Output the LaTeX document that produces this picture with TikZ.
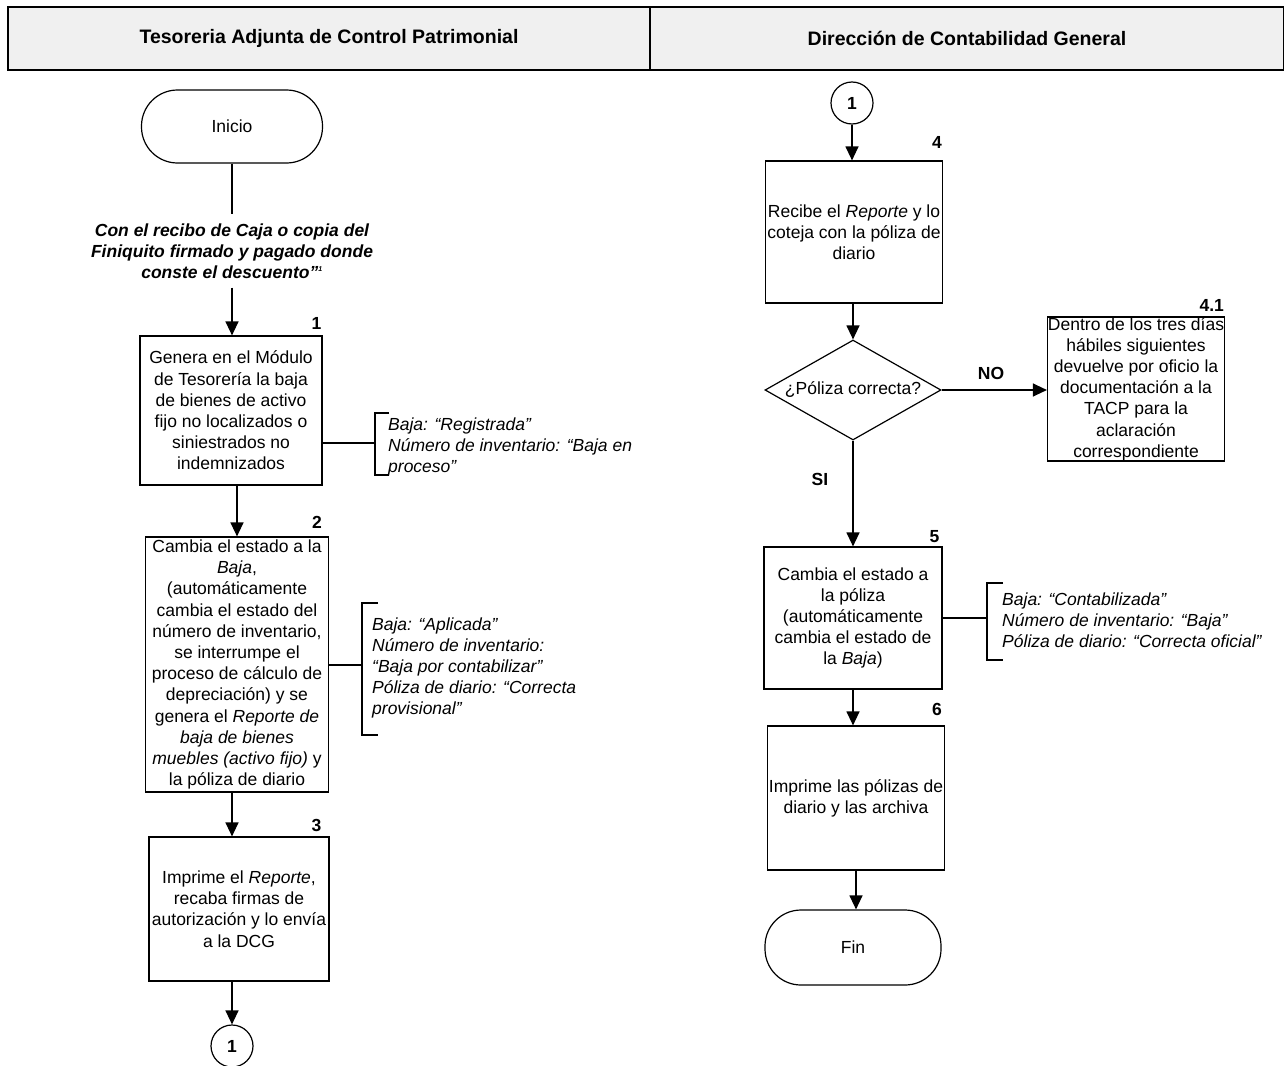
\documentclass[tikz,border=0pt]{standalone}
\usepackage{fontspec}
\setmainfont{Liberation Sans}
\usetikzlibrary{arrows.meta,shapes.geometric}
\newcommand{\txtf}{\fontsize{17.5}{21.2}\selectfont}
\newcommand{\hdrf}{\fontsize{19.5}{23}\selectfont\bfseries}
\newcommand{\numf}{\fontsize{17.5}{21}\selectfont\bfseries}
\newcommand{\condf}{\fontsize{17.5}{21}\selectfont\bfseries\itshape}
\begin{document}
\begin{tikzpicture}[x=1pt,y=-1pt,
  box/.style={draw, line width=1.2pt, align=center, inner sep=0pt, font=\txtf},
  term/.style={draw, line width=1.2pt, rounded corners=36pt, inner sep=0pt, font=\txtf},
  conn/.style={draw, circle, line width=1.2pt, minimum size=42pt, inner sep=0pt, font=\numf},
  num/.style={font=\numf, inner xsep=1pt, inner ysep=6pt, anchor=south east},
  arr/.style={line width=1.3pt, -{Triangle[length=14pt,width=13pt]}},
  ln/.style={line width=1.1pt},
  ann/.style={align=left, font=\txtf\itshape, inner sep=0pt, anchor=west},
  lbl/.style={font=\numf, inner sep=0pt},
  hdr/.style={draw, line width=2.4pt, fill=gray!12, font=\hdrf, inner sep=0pt}]
\useasboundingbox (0,0) rectangle (1284,1065);

% header
\node[hdr, minimum width=642pt, minimum height=63pt] (h1) at (329,38.5) {Tesoreria Adjunta de Control Patrimonial};
\node[hdr, minimum width=634pt, minimum height=63pt] (h2) at (967,38.5) {Dirección de Contabilidad General};

% left lane
\node[term, minimum width=181pt, minimum height=73pt] (ini) at (232,126.5) {Inicio};
\node[align=center, font=\condf, inner sep=9pt] (cond) at (232,251) {Con el recibo de Caja o copia del\\Finiquito firmado y pagado donde\\conste el descuento”\textsuperscript{\scriptsize 1}};
\node[box, minimum width=182pt, minimum height=149pt] (b1) at (231,410.5) {Genera en el Módulo\\de Tesorería la baja\\de bienes de activo\\fijo no localizados o\\siniestrados no\\indemnizados};
\node[num] (n1) at (b1.north east) {1};
\node[box, minimum width=183pt, minimum height=255pt] (b2) at (237,664.5) {Cambia el estado a la\\\textit{Baja},\\(automáticamente\\cambia el estado del\\número de inventario,\\se interrumpe el\\proceso de cálculo de\\depreciación) y se\\genera el \textit{Reporte de}\\\textit{baja de bienes}\\\textit{muebles (activo fijo)} y\\la póliza de diario};
\node[num, xshift=-6pt, yshift=2pt] (n2) at (b2.north east) {2};
\node[box, minimum width=180pt, minimum height=144pt] (b3) at (239,909) {Imprime el \textit{Reporte},\\recaba firmas de\\autorización y lo envía\\a la DCG};
\node[num, xshift=-7pt, yshift=-1pt] (n3) at (b3.north east) {3};
\node[conn] (c1) at (232,1046) {1};

\draw[ln] (ini) -- (cond);
\draw[arr] (cond.south) -- (cond.south |- b1.north);
\draw[arr] (b2.north |- b1.south) -- (b2.north);
\draw[arr] (c1.north |- b2.south) -- (c1.north |- b3.north);
\draw[arr] (c1.north |- b3.south) -- (c1.north);

% annotation 1
\coordinate (br1) at (375,443);
\draw[ln] (br1 -| b1.east) -- (br1);
\draw[ln] (389,413) -- (375,413) -- (375,475) -- (389,475);
\node[ann] (a1) at (388,447) {Baja: “Registrada”\\Número de inventario: “Baja en\\proceso”};

% annotation 2
\coordinate (br2) at (362,665);
\draw[ln] (br2 -| b2.east) -- (br2);
\draw[ln] (378,603) -- (362,603) -- (362,735) -- (378,735);
\node[ann] (a2) at (372,668) {Baja: “Aplicada”\\Número de inventario:\\“Baja por contabilizar”\\Póliza de diario: “Correcta\\provisional”};

% right lane
\node[conn] (c2) at (852,103) {1};
\node[box, minimum width=177pt, minimum height=142pt] (b4) at (854,232) {Recibe el \textit{Reporte} y lo\\coteja con la póliza de\\diario};
\node[num, yshift=6pt] (n4) at (b4.north east) {4};
\node[diamond, aspect=1.76, draw, line width=1.2pt, minimum width=176pt, minimum height=100pt, inner sep=0pt, font=\txtf] (d) at (853,390) {¿Póliza correcta?};
\node[box, minimum width=177pt, minimum height=144pt] (b41) at (1136,389) {Dentro de los tres días\\hábiles siguientes\\devuelve por oficio la\\documentación a la\\TACP para la\\aclaración\\correspondiente};
\node[num, yshift=-1pt] (n41) at (b41.north east) {4.1};
\node[box, minimum width=178pt, minimum height=142pt] (b5) at (853,618) {Cambia el estado a\\la póliza\\(automáticamente\\cambia el estado de\\la \textit{Baja})};
\node[num, yshift=-2pt, xshift=-2pt] (n5) at (b5.north east) {5};
\node[box, minimum width=177pt, minimum height=144pt] (b6) at (856,798) {Imprime las pólizas de\\diario y las archiva};
\node[num, yshift=4pt, xshift=-2pt] (n6) at (b6.north east) {6};
\node[term, minimum width=176pt, minimum height=75pt] (fin) at (853,947.5) {Fin};

\draw[arr] (c2.south) -- (c2.south |- b4.north);
\draw[arr] (d.north |- b4.south) -- (d.north);
\draw[arr] (d.east) -- (d.east -| b41.west);
\node[lbl] (no) at (991,373) {NO};
\draw[arr] (d.south) -- (b5.north);
\node[lbl] (si) at (820,479) {SI};
\draw[arr] (b5.south) -- (b5.south |- b6.north);
\draw[arr] (b6.south) -- (b6.south |- fin.north);

% annotation 5
\coordinate (br5) at (987,618);
\draw[ln] (br5 -| b5.east) -- (br5);
\draw[ln] (1003,583) -- (987,583) -- (987,660) -- (1003,660);
\node[ann] (a5) at (1002,620) {Baja: “Contabilizada”\\Número de inventario: “Baja”\\Póliza de diario: “Correcta oficial”};
\end{tikzpicture}
\end{document}
